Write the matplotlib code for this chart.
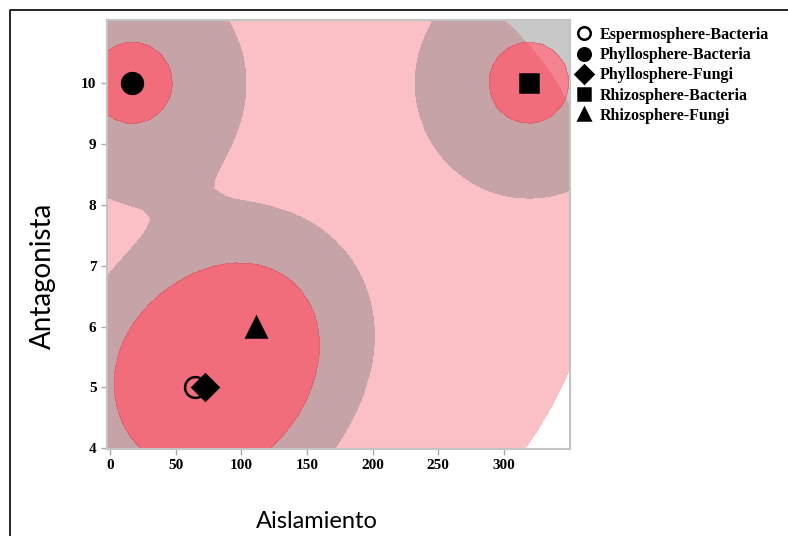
import numpy as np
import matplotlib.pyplot as plt
from matplotlib.lines import Line2D

# puntos por grupo (Aislamiento, Antagonista)
grupos = ['Espermosphere-Bacteria', 'Phyllosphere-Bacteria', 'Phyllosphere-Fungi',
          'Rhizosphere-Bacteria', 'Rhizosphere-Fungi']
aislamiento = [65, 17, 72, 319, 111]
antagonista = [5, 10, 5, 10, 6]
marcadores = ['o', 'o', 'D', 's', '^']
rellenos = ['none', 'k', 'k', 'k', 'k']

x_ticks = [0, 50, 100, 150, 200, 250, 300]
y_ticks = [4, 5, 6, 7, 8, 9, 10]

fig = plt.figure(figsize=(7.88, 5.36), dpi=100)
ax = fig.add_axes([107 / 788, 87 / 536, 463 / 788, 429 / 536])

# densidad suavizada (kernel gaussiano) sobre una malla gruesa
gx = np.linspace(-12, 362, 46)
gy = np.linspace(3.7, 11.3, 46)
X, Y = np.meshgrid(gx, gy)


def densidad(sx, sy):
    z = np.zeros_like(X)
    for px, py in zip(aislamiento, antagonista):
        z += np.exp(-0.5 * ((X - px) / sx) ** 2 - 0.5 * ((Y - py) / sy) ** 2)
    return z


z_amplia = densidad(244, 4.93)
z_local = densidad(47, 1.03)

ax.contourf(X, Y, z_amplia, levels=[2.52, 100], colors=['#FAC0C6'])
ax.contourf(X, Y, z_local, levels=[0.185, 0.81], colors=['#7A7A7A'], alpha=0.41)
ax.contourf(X, Y, z_local, levels=[0.81, 100], colors=['#ED4354'], alpha=0.66)

for x, y, m, fc, g in zip(aislamiento, antagonista, marcadores, rellenos, grupos):
    size = {'o': 15, 'D': 13, 's': 13, '^': 15}[m]
    ax.plot(x, y, linestyle='none', marker=m, markersize=size,
            markerfacecolor=fc, markeredgecolor='k', markeredgewidth=1.8, zorder=5)

ax.set_xlim(-2.3, 350.3)
ax.set_ylim(3.99, 11.03)
ax.set_xticks(x_ticks)
ax.set_yticks(y_ticks)
for s in ax.spines.values():
    s.set_color('#C4C4C4')
    s.set_linewidth(1.5)
ax.tick_params(colors='#AAAAAA', length=4, width=1, labelcolor='k')
for lab in ax.get_xticklabels() + ax.get_yticklabels():
    lab.set_fontfamily('Liberation Serif')
    lab.set_fontweight('bold')
    lab.set_fontsize(11)

# leyenda de grupos a la derecha
handles = [Line2D([], [], linestyle='none', marker=m, markersize=9,
                  markerfacecolor=fc, markeredgecolor='k', markeredgewidth=1.8)
           for m, fc in zip(marcadores, rellenos)]
ax.legend(handles, grupos, loc='upper left', bbox_to_anchor=(1.0 + 3 / 463, 1.0 - 2 / 429),
          frameon=False, handlelength=0.8, handletextpad=0.55, labelspacing=0.27,
          borderaxespad=0.0, borderpad=0.3,
          prop={'family': 'Liberation Serif', 'weight': 'bold', 'size': 11.5})

fig.text(317 / 788, 1 - 522 / 536, 'Aislamiento', family='Lato', fontsize=17,
         ha='center', va='center')
fig.text(43 / 788, 1 - 276 / 536, 'Antagonista', family='Lato', fontsize=20,
         rotation=90, ha='center', va='center')

# marco exterior
fig.add_artist(Line2D([10 / 788, 10 / 788, 1.0], [0.0, 1 - 10 / 536, 1 - 10 / 536],
                      transform=fig.transFigure, color='k', linewidth=1.2))

fig.savefig('out.png', dpi=100)
